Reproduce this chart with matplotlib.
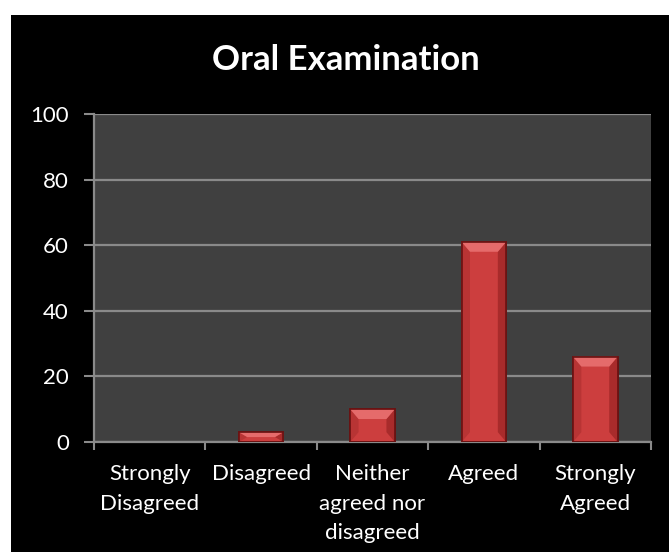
import matplotlib.pyplot as plt
from matplotlib.patches import Rectangle, Polygon

# data
categories = ['Strongly\nDisagreed', 'Disagreed', 'Neither\nagreed nor\ndisagreed', 'Agreed', 'Strongly\nAgreed']
values = [0, 3, 10, 61, 26]
yticks = [0, 20, 40, 60, 80, 100]

plt.rcParams['font.family'] = ['Lato', 'DejaVu Sans']

fig = plt.figure(figsize=(6.69, 5.52), dpi=100)
fig.patch.set_facecolor('white')
# black chart area with white margin top / left
fig.patches.append(Rectangle((11 / 669, 0), 1 - 11 / 669, 1 - 15 / 552,
                             transform=fig.transFigure, facecolor='black',
                             edgecolor='none', zorder=-1))

ax = fig.add_axes([94 / 669, 1 - 442 / 552, (651 - 94) / 669, (442 - 114) / 552])
ax.set_facecolor('#404040')

x = list(range(len(categories)))
width = 0.4
edges = ['none' if v == 0 else '#6a1212' for v in values]
bars = ax.bar(x, values, width=width, color='#cc3e3e', edgecolor=edges, linewidth=1.2, zorder=3)

# simple bevel on the top of each bar
for b, v in zip(bars, values):
    if v == 0:
        continue
    x0, x1 = b.get_x(), b.get_x() + b.get_width()
    dh = min(3.0, v / 2)
    dx = 0.075
    top = Polygon([(x0, v), (x1, v), (x1 - dx, v - dh), (x0 + dx, v - dh)],
                  closed=True, facecolor='#e56b6b', edgecolor='none', zorder=4)
    left = Polygon([(x0, v), (x0 + dx, v - dh), (x0 + dx, dh if v > 2 * dh else v - dh), (x0, 0)],
                   closed=True, facecolor='#b83434', edgecolor='none', zorder=4)
    right = Polygon([(x1, v), (x1 - dx, v - dh), (x1 - dx, dh if v > 2 * dh else v - dh), (x1, 0)],
                    closed=True, facecolor='#a82b2b', edgecolor='none', zorder=4)
    for p in (left, right, top):
        ax.add_patch(p)
    ax.add_patch(Rectangle((x0, 0), x1 - x0, v, facecolor='none', edgecolor='#6a1212',
                           linewidth=1.2, zorder=5))

ax.set_xlim(-0.5, len(categories) - 0.5)
ax.set_ylim(0, 100)
ax.set_yticks(yticks)
ax.yaxis.grid(True, color='#8a8a8a', linewidth=1.6, zorder=1)
ax.set_axisbelow(True)

# x ticks at category boundaries, labels centered
ax.set_xticks([i - 0.5 for i in range(len(categories) + 1)])
ax.set_xticklabels([])
ax.set_xticks(x, minor=True)
ax.set_xticklabels(categories, minor=True, color='white', fontsize=16, linespacing=1.6)
ax.tick_params(axis='x', which='major', length=6, width=1.5, color='#8a8a8a', direction='out')
ax.tick_params(axis='x', which='minor', length=0, pad=16)
ax.tick_params(axis='y', length=7, width=1.5, color='#8a8a8a', labelcolor='white',
               labelsize=16, pad=11)

for side in ['top', 'right']:
    ax.spines[side].set_visible(False)
for side in ['left', 'bottom']:
    ax.spines[side].set_color('#8a8a8a')
    ax.spines[side].set_linewidth(1.6)

fig.text(0.5165, 1 - 60 / 552, 'Oral Examination', color='white', fontsize=25,
         fontweight='bold', ha='center', va='center')

plt.savefig('out.png', dpi=100, facecolor=fig.get_facecolor())
